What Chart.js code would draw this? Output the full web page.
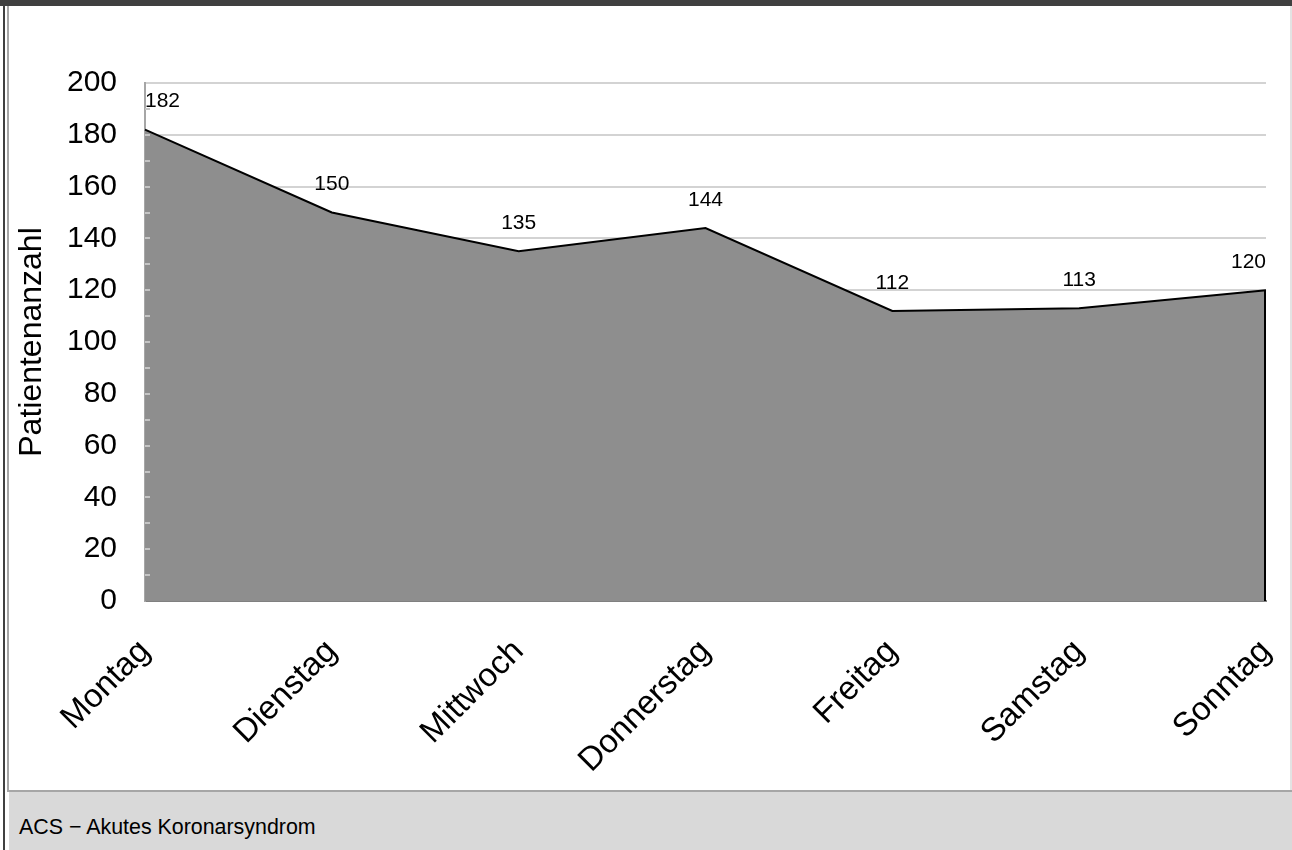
<!DOCTYPE html>
<html>
<head>
<meta charset="utf-8">
<script src="https://cdn.jsdelivr.net/npm/chart.js@4"></script>
<style>
  html, body { margin: 0; padding: 0; background: #fff; }
  body { width: 1292px; height: 850px; position: relative; overflow: hidden; font-family: "Liberation Sans", Arial, sans-serif; }
  #topbar { position: absolute; left: 0; top: 0; width: 1292px; height: 6px; background: #404040; }
  #edgeDark { position: absolute; left: 3px; top: 0; width: 2px; height: 850px; background: #404040; }
  #edgeGray { position: absolute; left: 7px; top: 6px; width: 2px; height: 786px; background: #a6a6a6; }
  #edgeRight { position: absolute; left: 1290px; top: 6px; width: 2px; height: 786px; background: #e3e3e3; }
  #footer { position: absolute; left: 9px; top: 790px; width: 1283px; height: 60px; background: #d9d9d9; border-top: 2px solid #a6a6a6; }
  #footer span { position: absolute; left: 10px; top: 23px; font-size: 21.4px; line-height: 24px; color: #000; white-space: nowrap; }
  #chartWrap { position: absolute; left: 10px; top: 7px; width: 1280px; height: 783px; }
</style>
</head>
<body>
<div id="topbar"></div>
<div id="edgeDark"></div>
<div id="edgeGray"></div>
<div id="edgeRight"></div>
<div id="chartWrap"><canvas id="line-chart" width="1280" height="783"></canvas></div>
<div id="footer"><span>ACS − Akutes Koronarsyndrom</span></div>
<script>
// Wochentage und Patientenzahlen
const days = ["Montag", "Dienstag", "Mittwoch", "Donnerstag", "Freitag", "Samstag", "Sonntag"];
const patients = [182, 150, 135, 144, 112, 113, 120];
const yMin = 0, yMax = 200, yStep = 20, yMinorStep = 10;
const yTitle = "Patientenanzahl";

const FONT = "'Liberation Sans', Arial, sans-serif";

// small tick marks inside the y axis, plus the black right edge and value labels
const extras = {
    id: 'extras',
    afterDatasetsDraw(chart) {
        const ctx = chart.ctx;
        const area = chart.chartArea;
        const y = chart.scales.y;
        const meta = chart.getDatasetMeta(0);
        ctx.save();

        ctx.strokeStyle = '#c4c4c4';
        ctx.lineWidth = 2;
        for (let v = yMin + yMinorStep; v < yMax; v += yMinorStep) {
            const py = Math.round(y.getPixelForValue(v));
            ctx.beginPath();
            ctx.moveTo(area.left, py);
            ctx.lineTo(area.left + 5, py);
            ctx.stroke();
        }

        const last = meta.data[meta.data.length - 1];
        ctx.strokeStyle = '#000';
        ctx.lineWidth = 2;
        ctx.beginPath();
        ctx.moveTo(last.x - 1, last.y);
        ctx.lineTo(last.x - 1, area.bottom);
        ctx.stroke();

        ctx.fillStyle = '#000';
        ctx.font = '21px ' + FONT;
        ctx.textAlign = 'center';
        ctx.textBaseline = 'middle';
        meta.data.forEach((pt, i) => {
            const txt = String(patients[i]);
            const w = ctx.measureText(txt).width;
            let x = pt.x;
            x = Math.max(area.left + w / 2, Math.min(area.right - w / 2, x));
            ctx.fillText(txt, x, pt.y - 28);
        });
        ctx.restore();
    }
};

new Chart(document.getElementById("line-chart"), {
    type: 'line',
    data: {
        labels: days,
        datasets: [{
            label: yTitle,
            data: patients,
            borderWidth: 2,
            borderColor: '#000',
            backgroundColor: '#8e8e8e',
            fill: 'origin',
            tension: 0,
            pointRadius: 0,
        }]
    },
    options: {
        responsive: false,
        animation: false,
        devicePixelRatio: 1,
        layout: { padding: { left: 0, top: 76, right: 24, bottom: 0 } },
        plugins: {
            legend: { display: false },
            tooltip: { enabled: false },
        },
        scales: {
            x: {
                offset: false,
                grid: { display: false, drawTicks: false },
                border: { display: true, color: '#808080', width: 2 },
                ticks: {
                    color: '#000',
                    font: { family: FONT, size: 33 },
                    maxRotation: 45,
                    minRotation: 45,
                    autoSkip: false,
                    padding: 31,
                },
                afterFit(scale) {
                    scale.height = 189;
                    scale.paddingLeft = 0;
                    scale.paddingRight = 0;
                }
            },
            y: {
                min: yMin,
                max: yMax,
                grid: { color: '#d3d3d3', lineWidth: 2, drawTicks: false },
                border: { display: true, color: '#a6a6a6', width: 2 },
                ticks: {
                    stepSize: yStep,
                    color: '#000',
                    font: { family: FONT, size: 30 },
                    padding: 28,
                },
                title: {
                    display: true,
                    text: yTitle,
                    color: '#000',
                    font: { family: FONT, size: 32 },
                    padding: { top: 3, bottom: 4 },
                },
                afterFit(scale) { scale.width = 135; }
            }
        }
    },
    plugins: [extras]
});
</script>
</body>
</html>
